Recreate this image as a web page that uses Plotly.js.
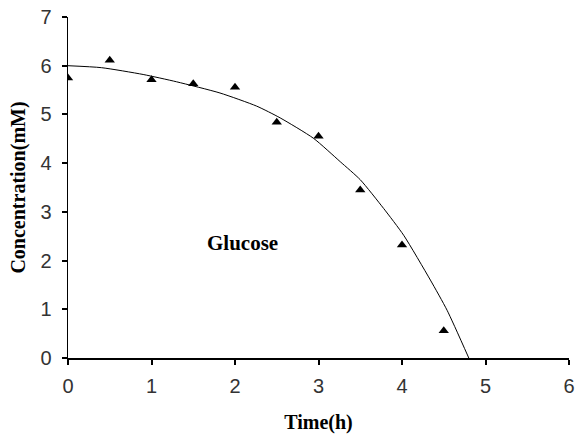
<!DOCTYPE html>
<html>
<head>
<meta charset="utf-8">
<script src="https://cdn.plot.ly/plotly-3.0.1.min.js"></script>
<style>html,body{margin:0;padding:0;background:#fff;}#chart{width:576px;height:434px;}</style>
</head>
<body>
<div id="chart"></div>
<script>
// Measured glucose concentrations
const timeH = [0, 0.5, 1, 1.5, 2, 2.5, 3, 3.5, 4, 4.5];
const glucose = [5.75, 6.11, 5.71, 5.63, 5.56, 4.84, 4.55, 3.45, 2.32, 0.56];

// Trend line
const fitTime = [0, 0.4, 0.9, 1.3, 1.82, 2.26, 2.54, 2.94, 3.26, 3.5, 3.78, 4.02, 4.34, 4.54, 4.8];
const fitConc = [6.0, 5.96, 5.82, 5.67, 5.44, 5.17, 4.93, 4.51, 4.03, 3.66, 3.07, 2.52, 1.60, 0.98, 0.0];

const xTicks = [0, 1, 2, 3, 4, 5, 6];
const yTicks = [0, 1, 2, 3, 4, 5, 6, 7];

const traces = [
  {
    x: fitTime, y: fitConc, type: 'scatter', mode: 'lines',
    line: {color: '#000', width: 1, shape: 'spline', smoothing: 0.6},
    hoverinfo: 'skip', showlegend: false
  },
  {
    x: timeH, y: glucose, type: 'scatter', mode: 'markers',
    marker: {symbol: 'triangle-up', size: 9, color: '#000'},
    showlegend: false
  }
];

const tickFont = {family: 'Liberation Sans, Arial, sans-serif', size: 20, color: '#333'};
const titleFont = {family: 'Liberation Serif, Times New Roman, serif', size: 20, color: '#000', weight: 'bold'};

const layout = {
  width: 576, height: 434,
  margin: {l: 68, r: 7, t: 17, b: 76},
  paper_bgcolor: '#fff', plot_bgcolor: '#fff',
  showlegend: false,
  xaxis: {
    range: [0, 6], tickvals: xTicks, ticktext: xTicks.map(String),
    showgrid: false, zeroline: false,
    showline: true, linecolor: '#000', linewidth: 1.5,
    ticks: 'outside', ticklen: 5, tickwidth: 2, tickcolor: '#000',
    tickfont: tickFont, ticklabelstandoff: 4,
    title: {text: '<b>Time(h)</b>', font: titleFont, standoff: 21}
  },
  yaxis: {
    range: [0, 7], tickvals: yTicks, ticktext: yTicks.map(String),
    showgrid: false, zeroline: false,
    showline: true, linecolor: '#000', linewidth: 1.5,
    ticks: 'outside', ticklen: 5, tickwidth: 2, tickcolor: '#000',
    tickfont: tickFont, ticklabelstandoff: 6,
    title: {text: '<b>Concentration(mM)</b>', font: titleFont, standoff: 9}
  },
  annotations: [{
    x: 2.09, y: 2.37, xref: 'x', yref: 'y', text: '<b>Glucose</b>',
    showarrow: false, font: {family: 'Liberation Serif, Times New Roman, serif', size: 21, color: '#000'}
  }]
};

Plotly.newPlot('chart', traces, layout, {displayModeBar: false, staticPlot: true});
</script>
</body>
</html>
